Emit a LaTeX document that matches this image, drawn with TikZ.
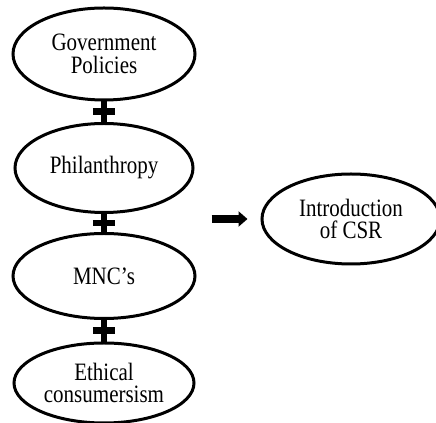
\documentclass[tikz,border=0pt]{standalone}
\usepackage{fontspec}
\setmainfont{Liberation Serif}[FakeStretch=0.84]
\usetikzlibrary{shapes.geometric,shapes.misc,arrows.meta,calc}

\begin{document}
\begin{tikzpicture}[x=0.75pt,y=0.75pt,yscale=-1,xscale=1,
  bubble/.style={draw, ellipse, line width=2.25pt, inner sep=0pt, align=center,
    font=\fontsize{18.75}{17}\selectfont},
  plussign/.style={draw, cross out, rotate=45, minimum size=6.9pt, inner sep=0pt, line width=5pt},
  fatarrow/.style={line width=6pt, -{Triangle[length=6.75pt,width=11.25pt]}}]
\useasboundingbox (0,0) rectangle (436,423);

% Column of factors
\node[bubble, minimum width=136.5pt, minimum height=69pt] (gov) at (104,54) {Government\\Policies};
\node[bubble, minimum width=133.5pt, minimum height=66.75pt] (phil) at (104,168) {Philanthropy};
\node[bubble, minimum width=136.5pt, minimum height=63.75pt] (mnc) at (104,276) {MNC's};
\node[bubble, minimum width=135pt, minimum height=60pt] (ethic) at (104,383) {Ethical\\consumersism};

% Plus signs between the factors
\node[plussign] (plusa) at ($(gov.south)!0.5!(phil.north)$) {};
\node[plussign] (plusb) at ($(phil.south)!0.5!(mnc.north)$) {};
\node[plussign] (plusc) at ($(mnc.south)!0.5!(ethic.north)$) {};

% Result
\node[bubble, minimum width=133.5pt, minimum height=67.5pt] (csr) at (351,219) {Introduction\\of CSR};

% Arrow
\draw[fatarrow, shorten <=11.25pt, shorten >=9.75pt] (mnc.east |- csr.west) -- (csr.west);

\end{tikzpicture}
\end{document}
